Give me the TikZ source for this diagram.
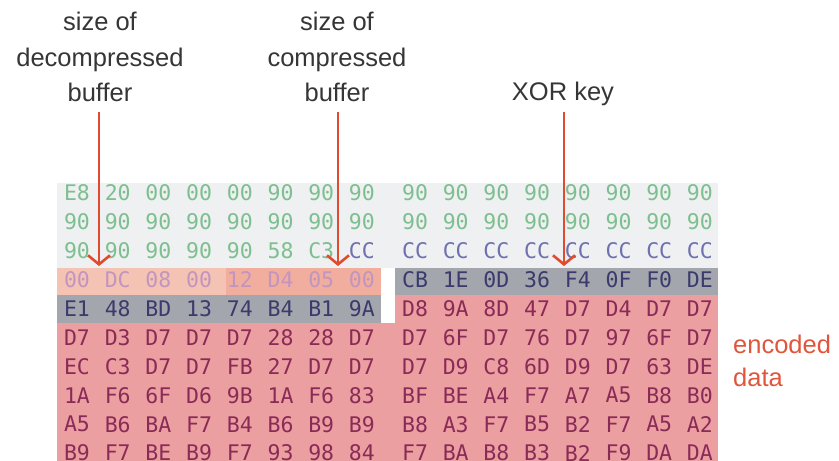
\documentclass[tikz,border=0pt]{standalone}
\usepackage{fontspec}
\setmainfont{Liberation Sans}
\newfontfamily\hexfont{DejaVu Sans Mono}
\usetikzlibrary{arrows.meta}
\definecolor{topgray}{HTML}{EEF0F2}
\definecolor{salmonA}{HTML}{F5C3B3}
\definecolor{salmonB}{HTML}{F1AE9F}
\definecolor{keygray}{HTML}{A3A6AD}
\definecolor{pinkbg}{HTML}{EC9FA1}
\definecolor{hexgreen}{HTML}{7DBF8E}
\definecolor{hexpurple}{HTML}{6F70AE}
\definecolor{hexmauve}{HTML}{C295BE}
\definecolor{hexnavy}{HTML}{3A3B6C}
\definecolor{hexmaroon}{HTML}{8A2B57}
\definecolor{labelgray}{HTML}{363636}
\definecolor{arrowred}{HTML}{E04B30}
\definecolor{encred}{HTML}{E0563C}
\newcommand\hexline[5]{%
  \foreach \b [count=\c from 0] in {#5} {%
    \node[hexcell,text=#4] (#1#3-\c) at ({#2+40.7*\c},{193+28.9*#3}) {\b};}}
\begin{document}
\begin{tikzpicture}[x=1pt,y=-1pt,
  hexcell/.style={inner sep=0pt,font=\hexfont\fontsize{21.5}{24}\selectfont},
  lab/.style={inner sep=0pt,anchor=base,text=labelgray,font=\fontsize{25.5}{30}\selectfont},
  enclab/.style={inner sep=0pt,anchor=base west,text=encred,font=\fontsize{25.5}{30}\selectfont},
  ptr/.style={draw=arrowred,line width=2.6pt,-{Straight Barb[length=9pt,width=22pt]}}]
\useasboundingbox (0,0) rectangle (839,461);
\fill[white] (0,0) rectangle (839,461);
% background bands
\fill[topgray] (57,183) rectangle (718,267.5);
\fill[salmonA] (57,267.5) rectangle (226,294.5);
\fill[salmonB] (226,267.5) rectangle (380.7,294.5);
\fill[keygray] (395,267.5) rectangle (718,294.5);
\fill[keygray] (57,294.5) rectangle (380.7,322.5);
\fill[pinkbg] (395,294.5) rectangle (718,322.5);
\fill[pinkbg] (57,322.5) rectangle (718,461);
% left block
\hexline{L}{77}{0}{hexgreen}{E8,20,00,00,00,90,90,90}
\hexline{L}{77}{1}{hexgreen}{90,90,90,90,90,90,90,90}
\hexline{L}{77}{2}{hexgreen}{90,90,90,90,90,58,C3}
\node[hexcell,text=hexpurple] (L2-7) at ({77+40.7*7},{193+28.9*2}) {CC};
\hexline{L}{77}{3}{hexmauve}{00,DC,08,00,12,D4,05,00}
\hexline{L}{77}{4}{hexnavy}{E1,48,BD,13,74,B4,B1,9A}
\hexline{L}{77}{5}{hexmaroon}{D7,D3,D7,D7,D7,28,28,D7}
\hexline{L}{77}{6}{hexmaroon}{EC,C3,D7,D7,FB,27,D7,D7}
\hexline{L}{77}{7}{hexmaroon}{1A,F6,6F,D6,9B,1A,F6,83}
\hexline{L}{77}{8}{hexmaroon}{A5,B6,BA,F7,B4,B6,B9,B9}
\hexline{L}{77}{9}{hexmaroon}{B9,F7,BE,B9,F7,93,98,84}
% right block
\hexline{R}{415}{0}{hexgreen}{90,90,90,90,90,90,90,90}
\hexline{R}{415}{1}{hexgreen}{90,90,90,90,90,90,90,90}
\hexline{R}{415}{2}{hexpurple}{CC,CC,CC,CC,CC,CC,CC,CC}
\hexline{R}{415}{3}{hexnavy}{CB,1E,0D,36,F4,0F,F0,DE}
\hexline{R}{415}{4}{hexmaroon}{D8,9A,8D,47,D7,D4,D7,D7}
\hexline{R}{415}{5}{hexmaroon}{D7,6F,D7,76,D7,97,6F,D7}
\hexline{R}{415}{6}{hexmaroon}{D7,D9,C8,6D,D9,D7,63,DE}
\hexline{R}{415}{7}{hexmaroon}{BF,BE,A4,F7,A7,A5,B8,B0}
\hexline{R}{415}{8}{hexmaroon}{B8,A3,F7,B5,B2,F7,A5,A2}
\hexline{R}{415}{9}{hexmaroon}{F7,BA,B8,B3,B2,F9,DA,DA}
% labels
\node[lab] (lab1a) at (100,30) {size of};
\node[lab] (lab1b) at (100,66) {decompressed};
\node[lab] (lab1c) at (100,101) {buffer};
\node[lab] (lab2a) at (337,30) {size of};
\node[lab] (lab2b) at (337,66) {compressed};
\node[lab] (lab2c) at (337,101) {buffer};
\node[lab] (lab3) at (563,100) {XOR key};
\node[enclab] (enc1) at (733,353) {encoded};
\node[enclab] (enc2) at (733,386) {data};
% arrows
\coordinate (a1s) at (99,112);
\coordinate (a1e) at (99,266);
\coordinate (a2s) at (338,112);
\coordinate (a2e) at (338,266);
\coordinate (a3s) at (564,112);
\coordinate (a3e) at (564,266);
\draw[ptr] (a1s) -- (a1e);
\draw[ptr] (a2s) -- (a2e);
\draw[ptr] (a3s) -- (a3e);
\end{tikzpicture}
\end{document}
